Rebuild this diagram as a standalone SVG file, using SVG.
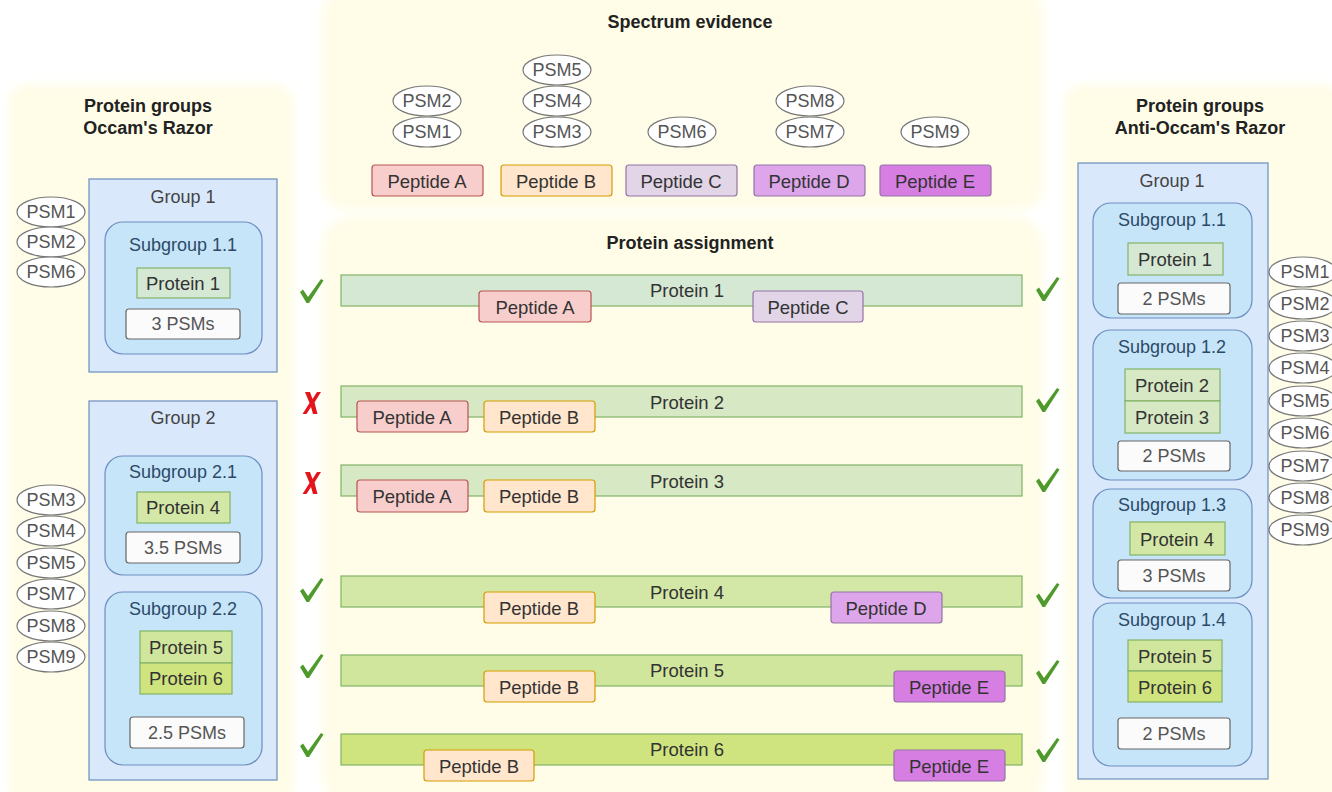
<svg xmlns="http://www.w3.org/2000/svg" width="1332" height="792" viewBox="0 0 1332 792">
<defs>
<filter id="soft" x="-5%" y="-5%" width="110%" height="110%"><feGaussianBlur stdDeviation="4"/></filter>
<path id="check" d="M-11,0 L-8,-2.5 L-3,5 L10,-13 L12.5,-11.5 L-2,11 L-4.5,11 Z" fill="#4f9a2c"/>
<path id="cross" d="M-7,-11 L-2,-11 L0.5,-4 L5,-11 L9,-11 L2.5,-0.5 L5.5,11 L1,11 L-1,4 L-5.5,11 L-9.5,11 L-2.5,0 Z" fill="#e3151b"/>
</defs>
<style>
text{font-family:"Liberation Sans",Arial,sans-serif;text-anchor:middle;dominant-baseline:central;fill:#333}
.title{font-weight:bold;font-size:18px;fill:#222}
.lbl{font-size:18.5px}
.gt{font-size:18px;fill:#444}
.st{font-size:18px;fill:#2c4a68}
.ct{font-size:18px;fill:#555}
.psm ellipse{fill:#fff;stroke:#777;stroke-width:1.2}
.psm text{font-size:18px;fill:#555}
.panel{fill:#fffde8}
.grp{fill:#dae8fc;stroke:#6c8ebf;stroke-width:1.2}
.sub{fill:#c7e5f9;stroke:#6c8ebf;stroke-width:1.2}
.cnt{fill:#fbfbfb;stroke:#666;stroke-width:1.2}
.pepA{fill:#f8cecc;stroke:#b85450;stroke-width:1.2}
.pepB{fill:#ffe6cc;stroke:#d79b00;stroke-width:1.2}
.pepC{fill:#e1d5e7;stroke:#9673a6;stroke-width:1.2}
.pepD{fill:#dda6ea;stroke:#9673a6;stroke-width:1.2}
.pepE{fill:#d77ee3;stroke:#9673a6;stroke-width:1.2}
.p1{fill:#d5e8d4;stroke:#82b366;stroke-width:1.2}
.p23{fill:#d6e8c4;stroke:#82b366;stroke-width:1.2}
.p4{fill:#d3e8a6;stroke:#82b366;stroke-width:1.2}
.p5{fill:#d0e69c;stroke:#82b366;stroke-width:1.2}
.p6{fill:#cfe47e;stroke:#82b366;stroke-width:1.2}
</style>
<rect width="1332" height="792" fill="#ffffff"/>
<g id="panels" filter="url(#soft)">
<rect class="panel" x="8" y="84" width="286" height="720" rx="20"/>
<rect class="panel" x="322" y="-10" width="722" height="220" rx="24"/>
<rect class="panel" x="322" y="216" width="722" height="590" rx="30"/>
<rect class="panel" x="1064" y="84" width="280" height="720" rx="20"/>
</g>

<g id="titles">
<text class="title" x="690" y="22">Spectrum evidence</text>
<text class="title" x="690" y="243">Protein assignment</text>
<text class="title" x="148" y="106">Protein groups</text>
<text class="title" x="148" y="128">Occam's Razor</text>
<text class="title" x="1200" y="106">Protein groups</text>
<text class="title" x="1200" y="128">Anti-Occam's Razor</text>
</g>

<g id="spectrum-psms" class="psm">
<ellipse cx="427" cy="101" rx="34" ry="15"/><text x="427" y="101">PSM2</text>
<ellipse cx="427" cy="132" rx="34" ry="15"/><text x="427" y="132">PSM1</text>
<ellipse cx="557" cy="70" rx="34" ry="15"/><text x="557" y="70">PSM5</text>
<ellipse cx="557" cy="101" rx="34" ry="15"/><text x="557" y="101">PSM4</text>
<ellipse cx="557" cy="132" rx="34" ry="15"/><text x="557" y="132">PSM3</text>
<ellipse cx="682" cy="132" rx="34" ry="15"/><text x="682" y="132">PSM6</text>
<ellipse cx="810" cy="101" rx="34" ry="15"/><text x="810" y="101">PSM8</text>
<ellipse cx="810" cy="132" rx="34" ry="15"/><text x="810" y="132">PSM7</text>
<ellipse cx="935" cy="132" rx="34" ry="15"/><text x="935" y="132">PSM9</text>
</g>

<g id="spectrum-peptides">
<rect class="pepA" x="372" y="165" width="111" height="31" rx="3"/><text class="lbl" x="427" y="181">Peptide A</text>
<rect class="pepB" x="501" y="165" width="111" height="31" rx="3"/><text class="lbl" x="556" y="181">Peptide B</text>
<rect class="pepC" x="626" y="165" width="111" height="31" rx="3"/><text class="lbl" x="681" y="181">Peptide C</text>
<rect class="pepD" x="754" y="165" width="111" height="31" rx="3"/><text class="lbl" x="809" y="181">Peptide D</text>
<rect class="pepE" x="880" y="165" width="111" height="31" rx="3"/><text class="lbl" x="935" y="181">Peptide E</text>
</g>

<g id="protein1">
<rect class="p1" x="341" y="275" width="681" height="31"/><text class="lbl" x="687" y="290">Protein 1</text>
<rect class="pepA" x="479" y="291" width="112" height="31" rx="3"/><text class="lbl" x="535" y="307">Peptide A</text>
<rect class="pepC" x="753" y="291" width="110" height="31" rx="3"/><text class="lbl" x="808" y="307">Peptide C</text>
</g>
<g id="protein2">
<rect class="p23" x="341" y="386" width="681" height="31"/><text class="lbl" x="687" y="402">Protein 2</text>
<rect class="pepA" x="357" y="401" width="111" height="31" rx="3"/><text class="lbl" x="412" y="417">Peptide A</text>
<rect class="pepB" x="484" y="401" width="111" height="31" rx="3"/><text class="lbl" x="539" y="417">Peptide B</text>
</g>
<g id="protein3">
<rect class="p23" x="341" y="465" width="681" height="31"/><text class="lbl" x="687" y="481">Protein 3</text>
<rect class="pepA" x="357" y="480" width="111" height="32" rx="3"/><text class="lbl" x="412" y="496">Peptide A</text>
<rect class="pepB" x="484" y="480" width="111" height="32" rx="3"/><text class="lbl" x="539" y="496">Peptide B</text>
</g>
<g id="protein4">
<rect class="p4" x="341" y="576" width="681" height="31"/><text class="lbl" x="687" y="592">Protein 4</text>
<rect class="pepB" x="484" y="592" width="111" height="31" rx="3"/><text class="lbl" x="539" y="608">Peptide B</text>
<rect class="pepD" x="831" y="592" width="111" height="31" rx="3"/><text class="lbl" x="886" y="608">Peptide D</text>
</g>
<g id="protein5">
<rect class="p5" x="341" y="655" width="681" height="31"/><text class="lbl" x="687" y="670">Protein 5</text>
<rect class="pepB" x="484" y="671" width="111" height="31" rx="3"/><text class="lbl" x="539" y="687">Peptide B</text>
<rect class="pepE" x="894" y="671" width="111" height="31" rx="3"/><text class="lbl" x="949" y="687">Peptide E</text>
</g>
<g id="protein6">
<rect class="p6" x="341" y="734" width="681" height="31"/><text class="lbl" x="687" y="749">Protein 6</text>
<rect class="pepB" x="424" y="750" width="110" height="31" rx="3"/><text class="lbl" x="479" y="766">Peptide B</text>
<rect class="pepE" x="894" y="750" width="111" height="31" rx="3"/><text class="lbl" x="949" y="766">Peptide E</text>
</g>

<g id="marks-left">
<use href="#check" x="311" y="292"/>
<use href="#cross" x="312" y="403"/>
<use href="#cross" x="312" y="483"/>
<use href="#check" x="311" y="591"/>
<use href="#check" x="311" y="667"/>
<use href="#check" x="311" y="746"/>
</g>
<g id="marks-right">
<use href="#check" x="1047" y="290"/>
<use href="#check" x="1047" y="401"/>
<use href="#check" x="1047" y="481"/>
<use href="#check" x="1047" y="596"/>
<use href="#check" x="1047" y="673"/>
<use href="#check" x="1047" y="751"/>
</g>

<g id="occam-group1">
<rect class="grp" x="89" y="179" width="188" height="193"/>
<text class="gt" x="183" y="197">Group 1</text>
<rect class="sub" x="105" y="222" width="157" height="132" rx="18"/>
<text class="st" x="183" y="245">Subgroup 1.1</text>
<rect class="p1" x="137" y="268" width="93" height="30"/><text class="lbl" x="183" y="283">Protein 1</text>
<rect class="cnt" x="126" y="309" width="114" height="30" rx="3"/><text class="ct" x="183" y="324">3 PSMs</text>
</g>
<g id="occam-group2">
<rect class="grp" x="89" y="401" width="188" height="379"/>
<text class="gt" x="183" y="418">Group 2</text>
<rect class="sub" x="105" y="456" width="157" height="119" rx="18"/>
<text class="st" x="183" y="472">Subgroup 2.1</text>
<rect class="p4" x="137" y="492" width="93" height="31"/><text class="lbl" x="183" y="507">Protein 4</text>
<rect class="cnt" x="126" y="532" width="114" height="31" rx="3"/><text class="ct" x="183" y="548">3.5 PSMs</text>
<rect class="sub" x="105" y="592" width="157" height="173" rx="18"/>
<text class="st" x="183" y="609">Subgroup 2.2</text>
<rect class="p5" x="140" y="631" width="92" height="32"/><text class="lbl" x="186" y="647">Protein 5</text>
<rect class="p6" x="140" y="663" width="92" height="31"/><text class="lbl" x="186" y="678">Protein 6</text>
<rect class="cnt" x="130" y="717" width="114" height="31" rx="3"/><text class="ct" x="187" y="733">2.5 PSMs</text>
</g>
<g id="occam-psms" class="psm">
<ellipse cx="51" cy="212" rx="34" ry="15"/><text x="51" y="212">PSM1</text>
<ellipse cx="51" cy="242" rx="34" ry="15"/><text x="51" y="242">PSM2</text>
<ellipse cx="51" cy="272" rx="34" ry="15"/><text x="51" y="272">PSM6</text>
<ellipse cx="51" cy="500" rx="34" ry="15"/><text x="51" y="500">PSM3</text>
<ellipse cx="51" cy="531" rx="34" ry="15"/><text x="51" y="531">PSM4</text>
<ellipse cx="51" cy="563" rx="34" ry="15"/><text x="51" y="563">PSM5</text>
<ellipse cx="51" cy="594" rx="34" ry="15"/><text x="51" y="594">PSM7</text>
<ellipse cx="51" cy="626" rx="34" ry="15"/><text x="51" y="626">PSM8</text>
<ellipse cx="51" cy="657" rx="34" ry="15"/><text x="51" y="657">PSM9</text>
</g>

<g id="anti-group1">
<rect class="grp" x="1078" y="163" width="190" height="616"/>
<text class="gt" x="1172" y="181">Group 1</text>
<rect class="sub" x="1093" y="203" width="159" height="115" rx="18"/>
<text class="st" x="1172" y="220">Subgroup 1.1</text>
<rect class="p1" x="1128" y="243" width="95" height="32"/><text class="lbl" x="1175" y="259">Protein 1</text>
<rect class="cnt" x="1118" y="283" width="112" height="31" rx="3"/><text class="ct" x="1174" y="299">2 PSMs</text>
<rect class="sub" x="1093" y="330" width="159" height="150" rx="18"/>
<text class="st" x="1172" y="347">Subgroup 1.2</text>
<rect class="p23" x="1125" y="369" width="95" height="32"/><text class="lbl" x="1172" y="385">Protein 2</text>
<rect class="p23" x="1125" y="401" width="95" height="32"/><text class="lbl" x="1172" y="417">Protein 3</text>
<rect class="cnt" x="1118" y="441" width="112" height="30" rx="3"/><text class="ct" x="1174" y="456">2 PSMs</text>
<rect class="sub" x="1093" y="489" width="159" height="109" rx="18"/>
<text class="st" x="1172" y="505">Subgroup 1.3</text>
<rect class="p4" x="1130" y="522" width="95" height="33"/><text class="lbl" x="1177" y="539">Protein 4</text>
<rect class="cnt" x="1118" y="560" width="112" height="31" rx="3"/><text class="ct" x="1174" y="576">3 PSMs</text>
<rect class="sub" x="1093" y="603" width="159" height="163" rx="18"/>
<text class="st" x="1172" y="620">Subgroup 1.4</text>
<rect class="p5" x="1128" y="640" width="94" height="31"/><text class="lbl" x="1175" y="656">Protein 5</text>
<rect class="p6" x="1128" y="671" width="94" height="31"/><text class="lbl" x="1175" y="687">Protein 6</text>
<rect class="cnt" x="1118" y="718" width="112" height="31" rx="3"/><text class="ct" x="1174" y="734">2 PSMs</text>
</g>
<g id="anti-psms" class="psm">
<ellipse cx="1303" cy="272" rx="34" ry="15"/><text x="1305" y="272">PSM1</text>
<ellipse cx="1303" cy="304" rx="34" ry="15"/><text x="1305" y="304">PSM2</text>
<ellipse cx="1303" cy="336" rx="34" ry="15"/><text x="1305" y="336">PSM3</text>
<ellipse cx="1303" cy="368" rx="34" ry="15"/><text x="1305" y="368">PSM4</text>
<ellipse cx="1303" cy="401" rx="34" ry="15"/><text x="1305" y="401">PSM5</text>
<ellipse cx="1303" cy="433" rx="34" ry="15"/><text x="1305" y="433">PSM6</text>
<ellipse cx="1303" cy="466" rx="34" ry="15"/><text x="1305" y="466">PSM7</text>
<ellipse cx="1303" cy="498" rx="34" ry="15"/><text x="1305" y="498">PSM8</text>
<ellipse cx="1303" cy="530" rx="34" ry="15"/><text x="1305" y="530">PSM9</text>
</g>
</svg>
